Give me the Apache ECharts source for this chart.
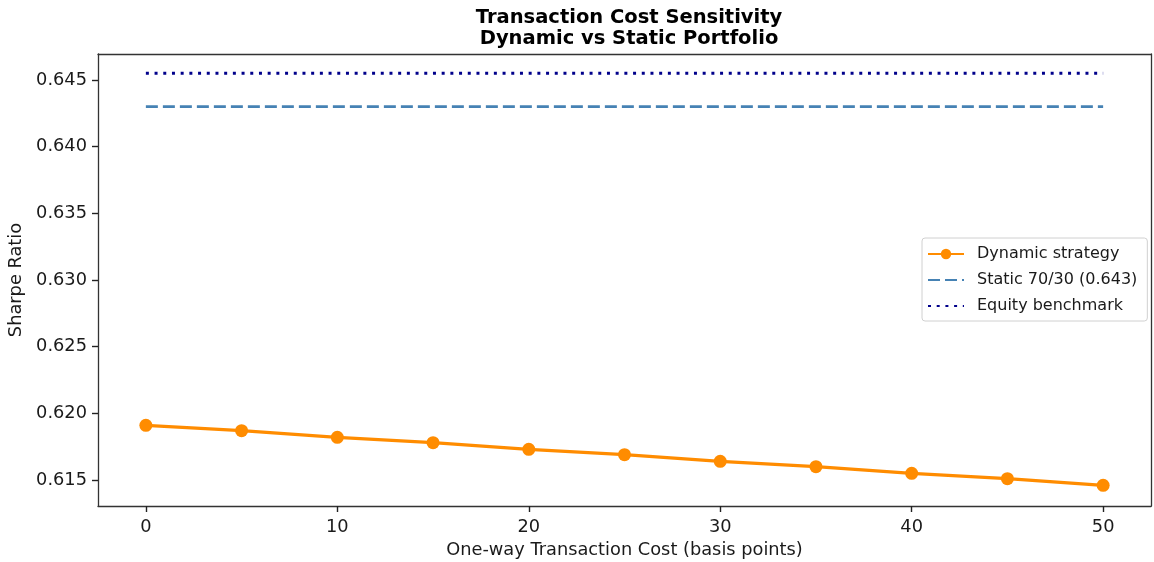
<!DOCTYPE html>
<html>
<head>
<meta charset="utf-8">
<script src="https://cdn.jsdelivr.net/npm/echarts@6/dist/echarts.min.js"></script>
<style>
  html, body { margin: 0; padding: 0; background: #fff; }
  #chart { width: 1154px; height: 562px; }
</style>
</head>
<body>
<div id="chart"></div>
<script>
// transaction cost in basis points
const costs = [0, 5, 10, 15, 20, 25, 30, 35, 40, 45, 50];
// sharpe ratio of the dynamic strategy at each cost
const dynamicSharpe = [0.6191, 0.6187, 0.6182, 0.6178, 0.6173, 0.6169, 0.6164, 0.6160, 0.6155, 0.6151, 0.6146];
const staticSharpe = 0.643;
const equitySharpe = 0.6455;
const xTicks = [0, 10, 20, 30, 40, 50];
const yTicks = [0.615, 0.620, 0.625, 0.630, 0.635, 0.640, 0.645];

const font = 'DejaVu Sans';
const txt = '#1a1a1a';
const frame = { show: true, onZero: false, lineStyle: { color: '#333', width: 1.3 } };
const xRange = { type: 'value', min: -2.5, max: 52.5 };
const yRange = { type: 'value', min: 0.61305, max: 0.64695 };
const chart = echarts.init(document.getElementById('chart'));

chart.setOption({
  animation: false,
  textStyle: { fontFamily: font },
  title: {
    text: 'Transaction Cost Sensitivity\nDynamic vs Static Portfolio',
    left: 624,
    top: 2,
    textAlign: 'center',
    textStyle: { fontFamily: font, fontSize: 19.5, fontWeight: 'bold', lineHeight: 21, color: '#000' }
  },
  legend: {
    orient: 'vertical',
    left: 922,
    top: 238,
    padding: [8, 10, 7, 5],
    itemGap: 10,
    itemWidth: 36,
    itemHeight: 13,
    backgroundColor: '#fff',
    borderColor: '#d0d0d0',
    borderWidth: 1,
    borderRadius: 3,
    textStyle: { fontFamily: font, fontSize: 16, color: txt, padding: [0, 0, 0, 8] },
    data: [
      { name: 'Dynamic strategy' },
      { name: 'Static 70/30 (0.643)', itemStyle: { opacity: 0 } },
      { name: 'Equity benchmark', itemStyle: { opacity: 0 } }
    ]
  },
  grid: { left: 98, top: 54, right: 3, bottom: 56, outerBoundsMode: 'none' },
  xAxis: [{
    ...xRange,
    position: 'bottom',
    name: 'One-way Transaction Cost (basis points)',
    nameLocation: 'middle',
    nameGap: 35,
    nameTextStyle: { fontFamily: font, fontSize: 17.8, color: txt },
    axisLine: frame,
    axisTick: { show: true, length: 6, customValues: xTicks, lineStyle: { color: '#222', width: 1.4 } },
    axisLabel: { customValues: xTicks, fontSize: 17.8, color: txt, margin: 12 },
    splitLine: { show: false }
  }, {
    ...xRange,
    position: 'top',
    axisLine: frame,
    axisTick: { show: false },
    axisLabel: { show: false },
    splitLine: { show: false }
  }],
  yAxis: [{
    ...yRange,
    position: 'left',
    name: 'Sharpe Ratio',
    nameLocation: 'middle',
    nameGap: 71,
    nameTextStyle: { fontFamily: font, fontSize: 17.8, color: txt },
    axisLine: frame,
    axisTick: { show: true, length: 6, customValues: yTicks, lineStyle: { color: '#222', width: 1.4 } },
    axisLabel: { customValues: yTicks, fontSize: 17.8, color: txt, margin: 11, formatter: v => v.toFixed(3) },
    splitLine: { show: false }
  }, {
    ...yRange,
    position: 'right',
    axisLine: frame,
    axisTick: { show: false },
    axisLabel: { show: false },
    splitLine: { show: false }
  }],
  series: [
    {
      name: 'Dynamic strategy',
      type: 'line',
      data: costs.map((c, i) => [c, dynamicSharpe[i]]),
      symbol: 'circle',
      symbolSize: 13,
      itemStyle: { color: '#ff8c00' },
      lineStyle: { color: '#ff8c00', width: 3.2 },
      z: 3
    },
    {
      name: 'Static 70/30 (0.643)',
      type: 'line',
      data: costs.map(c => [c, staticSharpe]),
      showSymbol: false,
      symbol: 'none',
      itemStyle: { color: '#4682b4' },
      lineStyle: { color: '#4682b4', width: 2.6, type: [12, 5] }
    },
    {
      name: 'Equity benchmark',
      type: 'line',
      data: costs.map(c => [c, equitySharpe]),
      showSymbol: false,
      symbol: 'none',
      itemStyle: { color: '#00008b' },
      lineStyle: { color: '#00008b', width: 3, type: [3, 5.7] }
    }
  ]
});
</script>
</body>
</html>
